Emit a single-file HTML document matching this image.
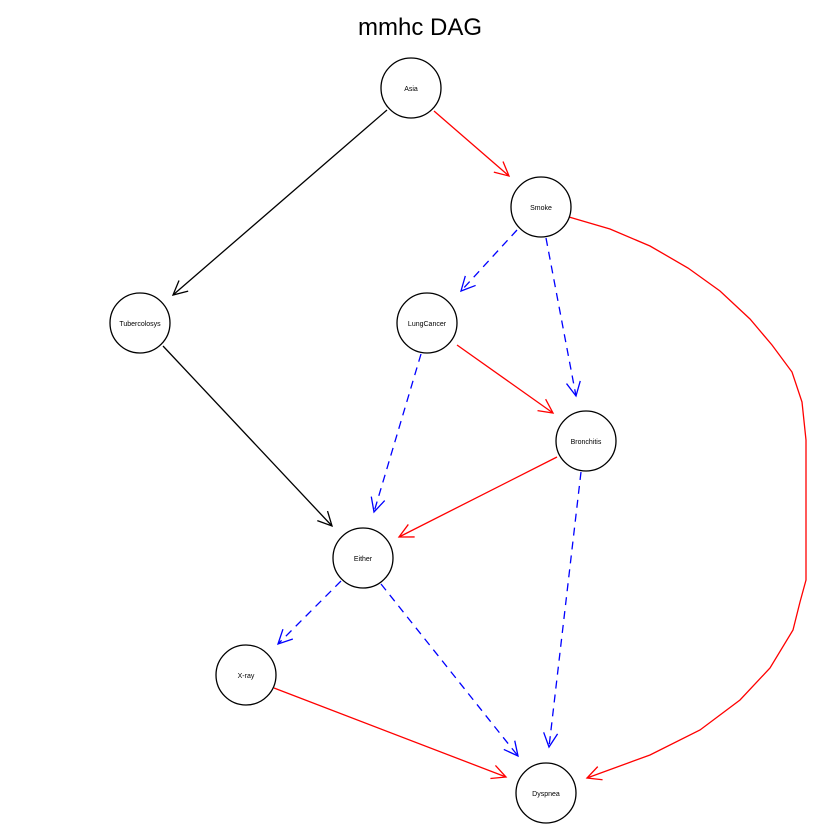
<!DOCTYPE html>
<html><head><meta charset="utf-8"><style>
html,body{margin:0;padding:0;background:#fff;}
svg{display:block;}
text{font-family:"Liberation Sans",sans-serif;}
</style></head><body>
<svg width="840" height="840" viewBox="0 0 840 840" xmlns="http://www.w3.org/2000/svg">
<defs>
<marker id="ak" markerUnits="userSpaceOnUse" markerWidth="20" markerHeight="20" refX="16" refY="10" orient="auto"><path d="M2,3 L16,10 L2,17" fill="none" stroke="#000" stroke-width="1.3"/></marker>
<marker id="ar" markerUnits="userSpaceOnUse" markerWidth="20" markerHeight="20" refX="16" refY="10" orient="auto"><path d="M2,3 L16,10 L2,17" fill="none" stroke="#f00" stroke-width="1.3"/></marker>
<marker id="ab" markerUnits="userSpaceOnUse" markerWidth="20" markerHeight="20" refX="16" refY="10" orient="auto"><path d="M2,3 L16,10 L2,17" fill="none" stroke="#00f" stroke-width="1.3"/></marker>
</defs>
<text x="420" y="35" font-size="24" text-anchor="middle">mmhc DAG</text>
<g fill="none" stroke-width="1.3">
<line x1="387" y1="110" x2="173" y2="295" stroke="#000" marker-end="url(#ak)"/>
<line x1="163" y1="346" x2="332" y2="526" stroke="#000" marker-end="url(#ak)"/>
<line x1="434" y1="111" x2="509" y2="176" stroke="#f00" marker-end="url(#ar)"/>
<line x1="457" y1="345" x2="553" y2="413" stroke="#f00" marker-end="url(#ar)"/>
<line x1="557" y1="457" x2="399" y2="537" stroke="#f00" marker-end="url(#ar)"/>
<line x1="274" y1="688" x2="506" y2="777" stroke="#f00" marker-end="url(#ar)"/>
<polyline points="569,217 610,229 650,246 688,268 720,291 750,319 772,345 792,372 802,402 806,440 806,580 800,602 793,630 770,668 740,700 700,730 650,755 587,778" stroke="#f00" marker-end="url(#ar)"/>
<g stroke="#00f" stroke-dasharray="8,6">
<line x1="517" y1="230" x2="461" y2="291" marker-end="url(#ab)"/>
<line x1="546" y1="238" x2="576" y2="396" marker-end="url(#ab)"/>
<line x1="421" y1="354" x2="374" y2="512" marker-end="url(#ab)"/>
<line x1="581" y1="472" x2="549" y2="747" marker-end="url(#ab)"/>
<line x1="341" y1="581" x2="278" y2="644" marker-end="url(#ab)"/>
<line x1="381" y1="584" x2="518" y2="756" marker-end="url(#ab)"/>
</g>
</g>
<g fill="#fff" stroke="#000" stroke-width="1.3">
<circle cx="411" cy="88" r="30"/>
<circle cx="541" cy="207" r="30"/>
<circle cx="140" cy="323" r="30"/>
<circle cx="427" cy="323" r="30"/>
<circle cx="586" cy="441" r="30"/>
<circle cx="363" cy="558" r="30"/>
<circle cx="246" cy="675" r="30"/>
<circle cx="546" cy="793" r="30"/>
</g>
<g font-size="7" text-anchor="middle">
<text x="411" y="91">Asia</text>
<text x="541" y="210">Smoke</text>
<text x="140" y="326">Tubercolosys</text>
<text x="427" y="326">LungCancer</text>
<text x="586" y="444">Bronchitis</text>
<text x="363" y="561">Either</text>
<text x="246" y="678">X-ray</text>
<text x="546" y="796">Dyspnea</text>
</g>
</svg>
</body></html>
